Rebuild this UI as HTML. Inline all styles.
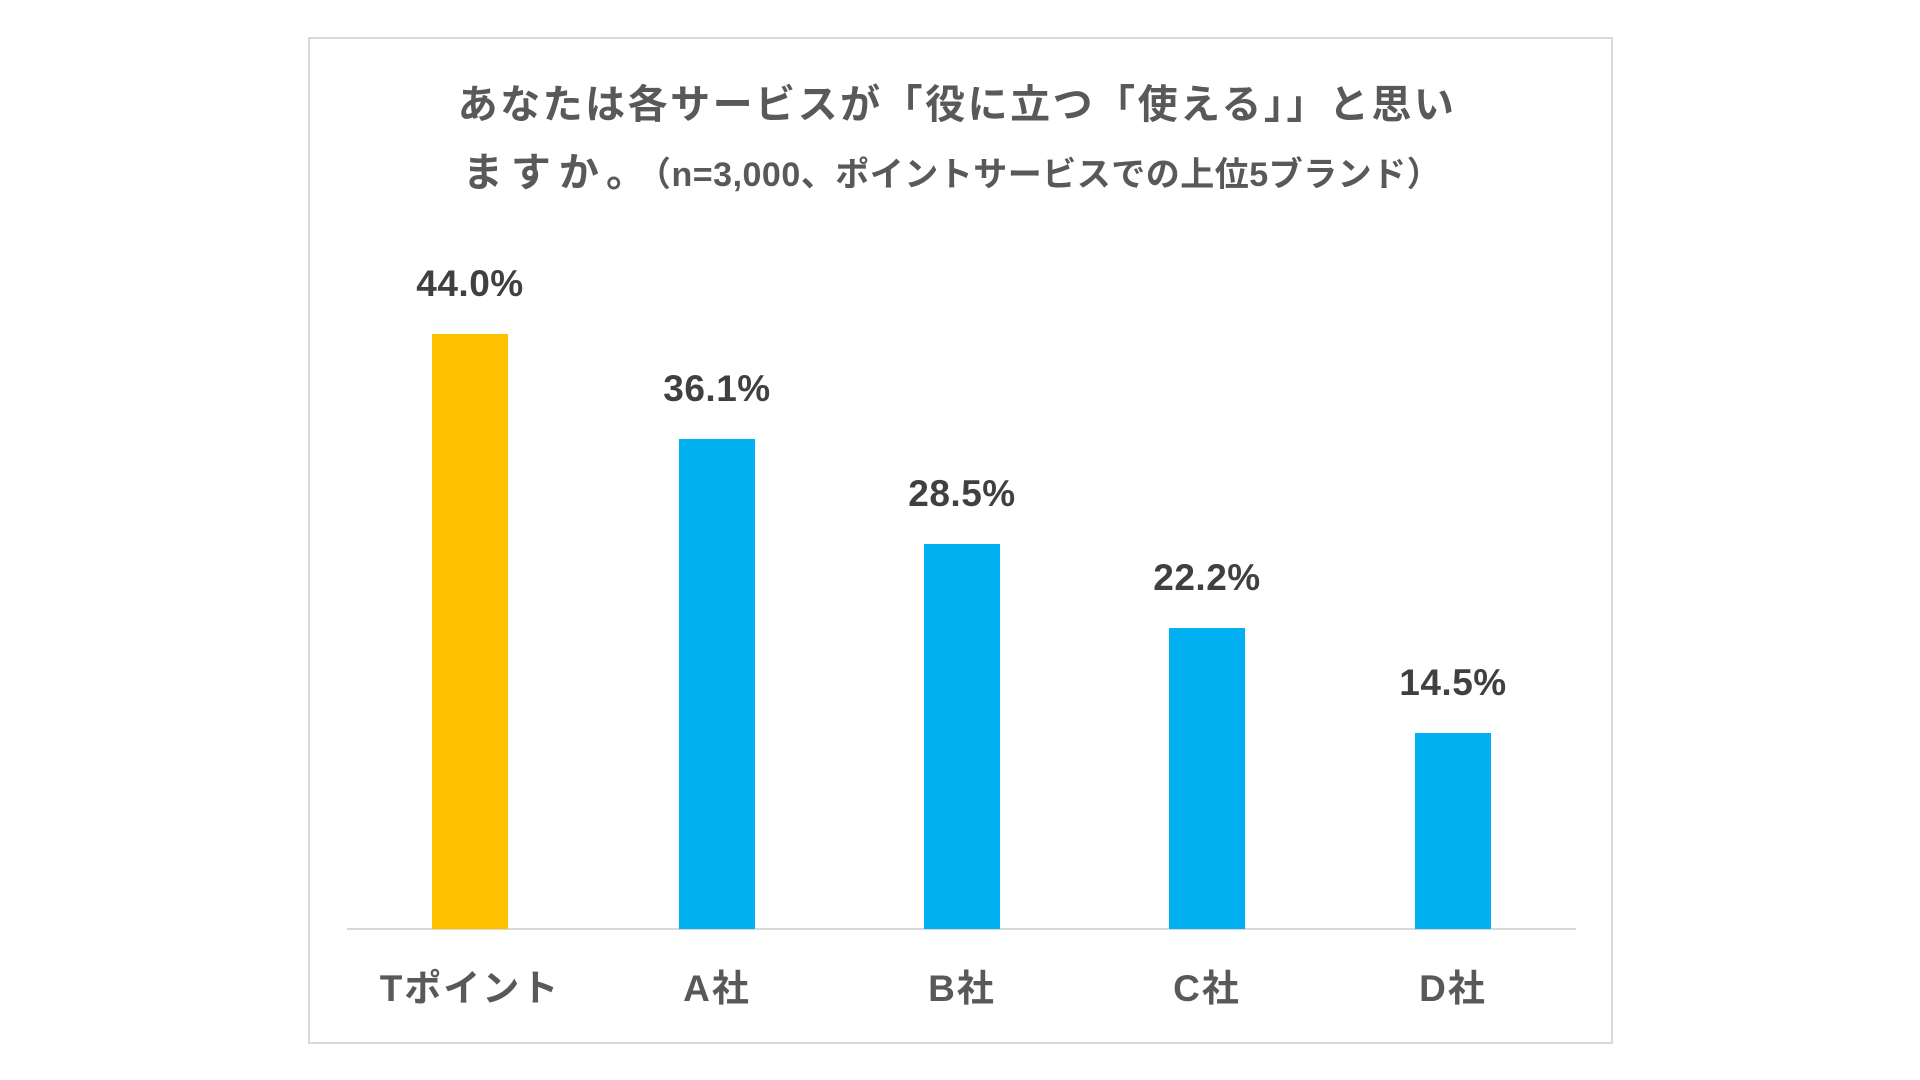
<!DOCTYPE html>
<html><head><meta charset="utf-8"><style>
body{margin:0;width:1920px;height:1080px;background:#fff;position:relative;overflow:hidden;font-family:"Liberation Sans","Noto Sans CJK JP",sans-serif;}
.box{position:absolute;left:308px;top:37px;width:1305px;height:1007px;border:2px solid #d9d9d9;box-sizing:border-box;}
.t{position:absolute;left:0;width:1920px;text-align:center;color:#595959;font-weight:bold;white-space:nowrap;}
.bar{position:absolute;width:76px;}
.v{position:absolute;width:200px;text-align:center;font-size:37px;font-weight:bold;color:#404040;letter-spacing:0.5px;}
.c{position:absolute;width:260px;text-align:center;font-size:37px;font-weight:bold;color:#595959;letter-spacing:2px;}
</style></head><body>
<div class="box"></div>
<div class="t" style="top:72px;font-size:40px;letter-spacing:2.5px;left:-3px">あなたは各サービスが「役に立つ「使える」」と思い</div>
<div class="t" style="top:140px;font-size:40px;left:-8px"><span style="letter-spacing:8px">ますか。</span><span style="font-size:34px;letter-spacing:0.5px">（n=3,000、ポイントサービスでの上位5ブランド）</span></div>
<div style="position:absolute;left:347px;top:928px;width:1229px;height:2px;background:#d9d9d9"></div>
<div class="bar" style="left:432px;top:334px;height:595px;background:#ffc000"></div>
<div class="bar" style="left:679px;top:439px;height:490px;background:#00b0f0"></div>
<div class="bar" style="left:924px;top:544px;height:385px;background:#00b0f0"></div>
<div class="bar" style="left:1169px;top:628px;height:301px;background:#00b0f0"></div>
<div class="bar" style="left:1415px;top:733px;height:196px;background:#00b0f0"></div>
<div class="v" style="left:370px;top:263px">44.0%</div>
<div class="v" style="left:617px;top:368px">36.1%</div>
<div class="v" style="left:862px;top:473px">28.5%</div>
<div class="v" style="left:1107px;top:557px">22.2%</div>
<div class="v" style="left:1353px;top:662px">14.5%</div>
<div class="c" style="left:340px;top:958px">Tポイント</div>
<div class="c" style="left:587px;top:958px">A社</div>
<div class="c" style="left:832px;top:958px">B社</div>
<div class="c" style="left:1077px;top:958px">C社</div>
<div class="c" style="left:1323px;top:958px">D社</div>
</body></html>
